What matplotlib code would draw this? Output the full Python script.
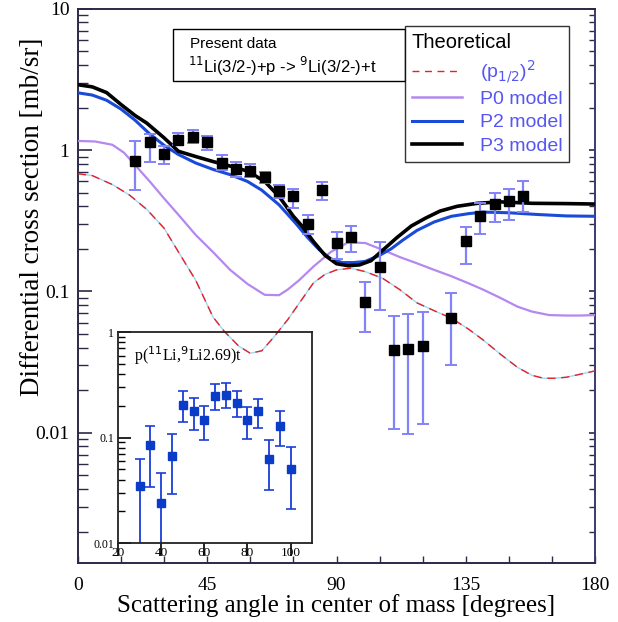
import numpy as np
import matplotlib.pyplot as plt
from matplotlib.patches import Rectangle
from matplotlib.lines import Line2D
from matplotlib.ticker import FixedLocator, LogLocator, NullFormatter

# measured cross sections (main panel)
angle = [20, 25, 30, 35, 40, 45, 50, 55, 60, 65, 70, 75, 80, 85, 90, 95,
         100, 105, 110, 115, 120, 130, 135, 140, 145, 150, 155]
xsec = [0.84, 1.14, 0.94, 1.18, 1.24, 1.14, 0.81, 0.73, 0.71, 0.64, 0.515, 0.475,
        0.30, 0.52, 0.22, 0.242, 0.084, 0.149, 0.0385, 0.039, 0.041, 0.065,
        0.228, 0.341, 0.415, 0.438, 0.47]
xsec_lo = [0.52, 0.82, 0.80, 1.09, 1.12, 1.0, 0.72, 0.64, 0.64, 0.58, 0.46, 0.39,
           0.255, 0.445, 0.17, 0.19, 0.052, 0.074, 0.0107, 0.0098, 0.0116, 0.030,
           0.157, 0.256, 0.31, 0.32, 0.367]
xsec_hi = [1.16, 1.30, 1.07, 1.32, 1.39, 1.26, 0.92, 0.82, 0.80, 0.70, 0.57, 0.53,
           0.35, 0.59, 0.265, 0.29, 0.116, 0.225, 0.067, 0.069, 0.071, 0.098,
           0.285, 0.42, 0.50, 0.53, 0.60]

# theoretical curves
p12_x = [0, 5, 12, 18, 24, 30, 35, 41, 47, 51, 56, 60, 64, 68, 73, 78, 82, 86, 90,
         95, 100, 106, 112, 118, 124, 130, 136, 141, 147, 153, 158, 162, 166, 170, 175, 180]
p12_y = [0.68, 0.66, 0.57, 0.48, 0.38, 0.28, 0.19, 0.12, 0.066, 0.052, 0.041, 0.0365,
         0.038, 0.047, 0.063, 0.088, 0.115, 0.132, 0.142, 0.146, 0.138, 0.124, 0.103,
         0.083, 0.073, 0.0646, 0.054, 0.0454, 0.036, 0.029, 0.0255, 0.0243, 0.0243,
         0.0247, 0.026, 0.0274]

p0_x = [0, 6, 12, 16, 20, 25, 30, 36, 41, 47, 53, 59, 65, 70, 73, 77, 82, 88, 94,
        100, 106, 112, 118, 124, 130, 136, 141, 147, 153, 158, 164, 170, 175, 180]
p0_y = [1.16, 1.15, 1.09, 0.96, 0.78, 0.60, 0.455, 0.33, 0.251, 0.19, 0.142, 0.113,
        0.0946, 0.094, 0.103, 0.12, 0.15, 0.19, 0.222, 0.22, 0.197, 0.175, 0.158, 0.142,
        0.128, 0.114, 0.103, 0.09, 0.078, 0.072, 0.068, 0.0675, 0.0675, 0.068]

p2_x = [0, 5, 10, 15, 20, 25, 30, 35, 41, 47, 53, 59, 64, 70, 76, 80, 84, 88, 92,
        96, 100, 105, 109, 113, 118, 124, 130, 136, 141, 150, 160, 170, 180]
p2_y = [2.54, 2.45, 2.25, 1.95, 1.62, 1.3, 1.08, 0.93, 0.81, 0.73, 0.67, 0.6, 0.52,
        0.41, 0.30, 0.24, 0.197, 0.17, 0.16, 0.16, 0.163, 0.18, 0.2, 0.23, 0.27, 0.31,
        0.34, 0.355, 0.364, 0.36, 0.35, 0.342, 0.34]

p3_x = [0, 5, 10, 15, 20, 24, 30, 35, 41, 47, 53, 59, 65, 70, 75, 78, 82, 86, 90,
        94, 98, 102, 106, 111, 116, 121, 126, 132, 139, 147, 158, 170, 180]
p3_y = [2.9, 2.8, 2.55, 2.1, 1.75, 1.55, 1.22, 0.98, 0.9, 0.83, 0.77, 0.71, 0.6,
        0.47, 0.34, 0.29, 0.225, 0.18, 0.157, 0.152, 0.154, 0.165, 0.195, 0.24, 0.29,
        0.33, 0.37, 0.40, 0.42, 0.43, 0.42, 0.418, 0.415]

# inset: p(11Li, 9Li 2.69)t
ins_angle = [30, 35, 40, 45, 50, 55, 60, 65, 70, 75, 80, 85, 90, 95, 100]
ins_xsec = [0.035, 0.085, 0.024, 0.067, 0.205, 0.178, 0.147, 0.247, 0.256, 0.215,
            0.147, 0.178, 0.0625, 0.130, 0.050]
ins_lo = [0.005, 0.034, 0.005, 0.029, 0.14, 0.118, 0.095, 0.184, 0.192, 0.156,
          0.098, 0.124, 0.0318, 0.0837, 0.021]
ins_hi = [0.063, 0.128, 0.046, 0.109, 0.274, 0.239, 0.199, 0.319, 0.329, 0.274,
          0.195, 0.233, 0.0947, 0.177, 0.081]

serif = "Liberation Serif"
sans = "Liberation Sans"
spine_col = "#2a2a48"
tick_right = "#8a8af5"

fig = plt.figure(figsize=(6.18, 6.22), dpi=100)
ax = fig.add_axes([0.126, 0.095, 0.837, 0.891])

ax.plot(p12_x, p12_y, color="#9fd8f0", lw=1.0, zorder=2)
ax.plot(p12_x, p12_y, color="#e8202a", lw=1.0, ls=(0, (6, 4)), zorder=3)
ax.plot(p0_x, p0_y, color="#b488ee", lw=1.6, zorder=3)
ax.plot(p2_x, p2_y, color="#1a4ad8", lw=2.2, zorder=4)
ax.plot(p3_x, p3_y, color="black", lw=2.6, zorder=5)

y = np.array(xsec)
yerr = [y - np.array(xsec_lo), np.array(xsec_hi) - y]
ax.errorbar(angle, xsec, yerr=yerr, fmt="s", color="black", ms=7.5,
            ecolor="#8383f8", elinewidth=1.6, capsize=4, capthick=1.4, zorder=6)

ax.set_yscale("log")
ax.set_xlim(0, 180)
ax.set_ylim(0.0012, 10)
ax.set_xticks([0, 45, 90, 135, 180])
ax.xaxis.set_minor_locator(FixedLocator(np.arange(0, 181, 15)))
ax.set_yticks([0.01, 0.1, 1, 10])
ax.set_yticklabels(["0.01", "0.1", "1", "10"])
ax.yaxis.set_minor_locator(LogLocator(base=10, subs=np.arange(2, 10)))
ax.yaxis.set_minor_formatter(NullFormatter())
ax.yaxis.set_ticks_position("both")
ax.tick_params(axis="both", which="both", direction="in", color=spine_col)
ax.tick_params(axis="y", which="major", length=10, width=1.2, labelsize=14, pad=6)
ax.tick_params(axis="y", which="minor", length=7, width=1.0)
ax.tick_params(axis="x", which="both", length=5, width=1.0, labelsize=14, pad=10)
for t in ax.yaxis.get_major_ticks() + ax.yaxis.get_minor_ticks():
    t.tick2line.set_color(tick_right)
    t.tick2line.set_markersize(4)
for lab in ax.get_xticklabels() + ax.get_yticklabels():
    lab.set_fontfamily(serif)
for s in ax.spines.values():
    s.set_color(spine_col)
    s.set_linewidth(1.4)
ax.spines["right"].set_color("#3a3a70")

ax.set_xlabel("Scattering angle in center of mass [degrees]", fontfamily=serif,
              fontsize=18, labelpad=0)
ax.set_ylabel("Differential cross section [mb/sr]", fontfamily=serif, fontsize=19.5)
ax.yaxis.set_label_coords(-0.064, 0.625)

# legend
handles = [
    Line2D([], [], color="#e8202a", lw=1.0, ls=(0, (5, 4))),
    Line2D([], [], color="#b488ee", lw=1.8),
    Line2D([], [], color="#1a4ad8", lw=2.2),
    Line2D([], [], color="black", lw=2.6),
]
labels = [r"(p$_{1/2}$)$^2$", "P0 model", "P2 model", "P3 model"]
leg = fig.legend(handles, labels, title="Theoretical", loc="upper left",
                 bbox_to_anchor=(0.655, 0.958), bbox_transform=fig.transFigure,
                 prop={"family": sans, "size": 14},
                 title_fontproperties={"family": sans, "size": 14.5},
                 frameon=True, fancybox=False, edgecolor="black", handlelength=2.6,
                 labelspacing=0.3, borderpad=0.35, borderaxespad=0,
                 handletextpad=0.9, alignment="left")
leg.get_frame().set_linewidth(1.0)
for t in leg.get_texts():
    t.set_color("#5656f2")

# present data box
fig.patches.append(Rectangle((173 / 618, 1 - 81 / 622), 232 / 618, 52 / 622,
                             transform=fig.transFigure, fill=False, ec="black", lw=1.0))
fig.text(190 / 618, 1 - 44 / 622, "Present data", fontfamily=sans, fontsize=11,
         va="center")
fig.text(188 / 618, 1 - 66 / 622, r"$^{11}$Li(3/2-)+p -> $^{9}$Li(3/2-)+t",
         fontfamily=sans, fontsize=12, va="center")

# inset
ins = fig.add_axes([0.191, 0.127, 0.314, 0.339])
ins.patch.set_alpha(0)
iy = np.array(ins_xsec)
ierr = [iy - np.array(ins_lo), np.array(ins_hi) - iy]
ins.errorbar(ins_angle, ins_xsec, yerr=ierr, fmt="s", color="#0b3cc8", ms=6,
             ecolor="#1a3ed8", elinewidth=1.3, capsize=3.5, capthick=1.2)
ins.set_yscale("log")
ins.set_xlim(20, 110)
ins.set_ylim(0.01, 1)
ins.set_xticks([20, 40, 60, 80, 100])
ins.set_yticks([0.01, 0.1, 1])
ins.set_yticklabels(["0.01", "0.1", "1"])
ins.yaxis.set_minor_locator(LogLocator(base=10, subs=np.arange(2, 10)))
ins.yaxis.set_minor_formatter(NullFormatter())
ins.tick_params(axis="y", which="major", direction="in", length=9, width=1.2,
                labelsize=8.5, pad=3)
ins.tick_params(axis="y", which="minor", direction="in", length=5, width=1.0)
ins.tick_params(axis="x", which="major", direction="out", length=9, width=1.2,
                labelsize=9.5, pad=-6)
for lab in ins.get_xticklabels() + ins.get_yticklabels():
    lab.set_fontfamily(serif)
for s in ins.spines.values():
    s.set_linewidth(1.3)
    s.set_color("#222222")
ins.text(0.08, 0.89, r"p($^{11}$Li,$^{9}$Li2.69)t", transform=ins.transAxes,
         fontfamily=serif, fontsize=11.5, va="center")

fig.savefig("out.png", dpi=100)
